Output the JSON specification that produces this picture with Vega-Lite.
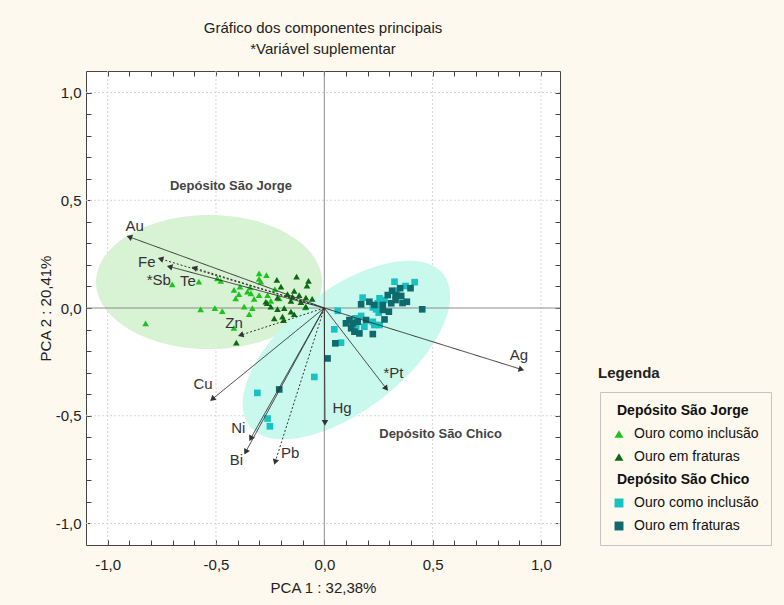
{
  "$schema": "https://vega.github.io/schema/vega-lite/v6.json",
  "width": 474,
  "height": 474,
  "autosize": "none",
  "padding": {"left": 86, "top": 71, "right": 224, "bottom": 60},
  "background": "#fdf9ee",
  "title": {
    "text": ["Gráfico dos componentes principais", "*Variável suplementar"],
    "font": "Liberation Sans",
    "fontSize": 15,
    "fontWeight": "normal",
    "color": "#222222",
    "lineHeight": 21,
    "anchor": "middle",
    "frame": "group",
    "offset": 14
  },
  "config": {
    "view": {"stroke": "#444444", "strokeWidth": 1, "fill": "#ffffff"},
    "axis": {
      "domain": false,
      "grid": false,
      "tickColor": "#444444",
      "tickSize": -5,
      "tickWidth": 1,
      "labelFont": "Liberation Sans",
      "labelFontSize": 15,
      "labelColor": "#222222",
      "labelFlush": false,
      "titleFont": "Liberation Sans",
      "titleFontSize": 15,
      "titleFontWeight": "normal",
      "titleColor": "#222222"
    }
  },
  "resolve": {"axis": {"x": "independent", "y": "independent"}},
  "datasets": {
    "grade": [{"v": -1.0}, {"v": -0.5}, {"v": 0.5}, {"v": 1.0}],
    "eixos": [{"zero": 0}],
    "elipses": [
      {"deposito": "São Jorge", "pc1": -0.532, "pc2": 0.121},
      {"deposito": "São Chico", "pc1": 0.102, "pc2": -0.195}
    ],
    "pontos": [
      {"grupo": "J1", "pc1": -0.702, "pc2": 0.110},
      {"grupo": "J1", "pc1": -0.579, "pc2": 0.122},
      {"grupo": "J1", "pc1": -0.494, "pc2": 0.138},
      {"grupo": "J1", "pc1": -0.478, "pc2": 0.126},
      {"grupo": "J1", "pc1": -0.571, "pc2": -0.006},
      {"grupo": "J1", "pc1": -0.505, "pc2": -0.001},
      {"grupo": "J1", "pc1": -0.471, "pc2": -0.014},
      {"grupo": "J1", "pc1": -0.825, "pc2": -0.071},
      {"grupo": "J1", "pc1": -0.267, "pc2": 0.153},
      {"grupo": "J1", "pc1": -0.301, "pc2": 0.135},
      {"grupo": "J1", "pc1": -0.293, "pc2": 0.122},
      {"grupo": "J1", "pc1": -0.417, "pc2": 0.084},
      {"grupo": "J1", "pc1": -0.389, "pc2": 0.099},
      {"grupo": "J1", "pc1": -0.343, "pc2": 0.096},
      {"grupo": "J1", "pc1": -0.355, "pc2": 0.076},
      {"grupo": "J1", "pc1": -0.394, "pc2": 0.064},
      {"grupo": "J1", "pc1": -0.339, "pc2": 0.068},
      {"grupo": "J1", "pc1": -0.228, "pc2": 0.088},
      {"grupo": "J1", "pc1": -0.301, "pc2": 0.060},
      {"grupo": "J1", "pc1": -0.262, "pc2": 0.060},
      {"grupo": "J1", "pc1": -0.409, "pc2": 0.045},
      {"grupo": "J1", "pc1": -0.324, "pc2": 0.042},
      {"grupo": "J1", "pc1": -0.247, "pc2": 0.033},
      {"grupo": "J1", "pc1": -0.208, "pc2": 0.045},
      {"grupo": "J1", "pc1": -0.370, "pc2": 0.006},
      {"grupo": "J1", "pc1": -0.332, "pc2": -0.001},
      {"grupo": "J1", "pc1": -0.347, "pc2": -0.029},
      {"grupo": "J1", "pc1": -0.417, "pc2": -0.092},
      {"grupo": "J1", "pc1": -0.088, "pc2": 0.003},
      {"grupo": "J1", "pc1": -0.301, "pc2": 0.161},
      {"grupo": "J2", "pc1": -0.219, "pc2": 0.130},
      {"grupo": "J2", "pc1": -0.128, "pc2": 0.146},
      {"grupo": "J2", "pc1": -0.073, "pc2": 0.126},
      {"grupo": "J2", "pc1": -0.080, "pc2": 0.104},
      {"grupo": "J2", "pc1": -0.200, "pc2": 0.099},
      {"grupo": "J2", "pc1": -0.216, "pc2": 0.048},
      {"grupo": "J2", "pc1": -0.170, "pc2": 0.064},
      {"grupo": "J2", "pc1": -0.139, "pc2": 0.079},
      {"grupo": "J2", "pc1": -0.147, "pc2": 0.053},
      {"grupo": "J2", "pc1": -0.116, "pc2": 0.060},
      {"grupo": "J2", "pc1": -0.085, "pc2": 0.048},
      {"grupo": "J2", "pc1": -0.270, "pc2": 0.029},
      {"grupo": "J2", "pc1": -0.154, "pc2": 0.033},
      {"grupo": "J2", "pc1": -0.108, "pc2": 0.027},
      {"grupo": "J2", "pc1": -0.247, "pc2": 0.006},
      {"grupo": "J2", "pc1": -0.216, "pc2": -0.005},
      {"grupo": "J2", "pc1": -0.185, "pc2": -0.001},
      {"grupo": "J2", "pc1": -0.154, "pc2": -0.017},
      {"grupo": "J2", "pc1": -0.139, "pc2": -0.029},
      {"grupo": "J2", "pc1": -0.085, "pc2": 0.006},
      {"grupo": "J2", "pc1": -0.231, "pc2": -0.048},
      {"grupo": "J2", "pc1": -0.193, "pc2": -0.040},
      {"grupo": "J2", "pc1": -0.188, "pc2": -0.056},
      {"grupo": "J2", "pc1": -0.406, "pc2": -0.161},
      {"grupo": "J2", "pc1": -0.264, "pc2": 0.023},
      {"grupo": "J2", "pc1": -0.056, "pc2": 0.042},
      {"grupo": "C1", "pc1": 0.417, "pc2": 0.120},
      {"grupo": "C1", "pc1": 0.324, "pc2": 0.122},
      {"grupo": "C1", "pc1": 0.375, "pc2": 0.102},
      {"grupo": "C1", "pc1": 0.335, "pc2": 0.080},
      {"grupo": "C1", "pc1": 0.278, "pc2": 0.037},
      {"grupo": "C1", "pc1": 0.255, "pc2": 0.045},
      {"grupo": "C1", "pc1": 0.247, "pc2": 0.022},
      {"grupo": "C1", "pc1": 0.177, "pc2": 0.048},
      {"grupo": "C1", "pc1": 0.239, "pc2": -0.006},
      {"grupo": "C1", "pc1": 0.251, "pc2": -0.022},
      {"grupo": "C1", "pc1": 0.224, "pc2": 0.003},
      {"grupo": "C1", "pc1": 0.062, "pc2": -0.013},
      {"grupo": "C1", "pc1": 0.170, "pc2": -0.037},
      {"grupo": "C1", "pc1": 0.144, "pc2": -0.048},
      {"grupo": "C1", "pc1": 0.224, "pc2": -0.064},
      {"grupo": "C1", "pc1": 0.231, "pc2": -0.079},
      {"grupo": "C1", "pc1": 0.255, "pc2": -0.079},
      {"grupo": "C1", "pc1": 0.147, "pc2": -0.087},
      {"grupo": "C1", "pc1": 0.185, "pc2": -0.087},
      {"grupo": "C1", "pc1": 0.046, "pc2": -0.099},
      {"grupo": "C1", "pc1": 0.077, "pc2": -0.161},
      {"grupo": "C1", "pc1": -0.046, "pc2": -0.320},
      {"grupo": "C1", "pc1": -0.309, "pc2": -0.394},
      {"grupo": "C1", "pc1": -0.262, "pc2": -0.513},
      {"grupo": "C1", "pc1": -0.251, "pc2": -0.549},
      {"grupo": "C2", "pc1": 0.398, "pc2": 0.092},
      {"grupo": "C2", "pc1": 0.350, "pc2": 0.092},
      {"grupo": "C2", "pc1": 0.313, "pc2": 0.080},
      {"grupo": "C2", "pc1": 0.293, "pc2": 0.060},
      {"grupo": "C2", "pc1": 0.329, "pc2": 0.060},
      {"grupo": "C2", "pc1": 0.355, "pc2": 0.056},
      {"grupo": "C2", "pc1": 0.329, "pc2": 0.037},
      {"grupo": "C2", "pc1": 0.309, "pc2": 0.022},
      {"grupo": "C2", "pc1": 0.381, "pc2": 0.029},
      {"grupo": "C2", "pc1": 0.270, "pc2": 0.014},
      {"grupo": "C2", "pc1": 0.208, "pc2": 0.029},
      {"grupo": "C2", "pc1": 0.170, "pc2": 0.017},
      {"grupo": "C2", "pc1": 0.231, "pc2": 0.014},
      {"grupo": "C2", "pc1": 0.270, "pc2": -0.009},
      {"grupo": "C2", "pc1": 0.298, "pc2": -0.017},
      {"grupo": "C2", "pc1": 0.116, "pc2": -0.056},
      {"grupo": "C2", "pc1": 0.131, "pc2": -0.071},
      {"grupo": "C2", "pc1": 0.100, "pc2": -0.071},
      {"grupo": "C2", "pc1": 0.154, "pc2": -0.064},
      {"grupo": "C2", "pc1": 0.193, "pc2": -0.056},
      {"grupo": "C2", "pc1": 0.278, "pc2": -0.053},
      {"grupo": "C2", "pc1": 0.124, "pc2": -0.094},
      {"grupo": "C2", "pc1": 0.162, "pc2": -0.118},
      {"grupo": "C2", "pc1": 0.139, "pc2": -0.110},
      {"grupo": "C2", "pc1": 0.224, "pc2": -0.121},
      {"grupo": "C2", "pc1": 0.452, "pc2": -0.006},
      {"grupo": "C2", "pc1": 0.051, "pc2": -0.164},
      {"grupo": "C2", "pc1": 0.015, "pc2": -0.234},
      {"grupo": "C2", "pc1": -0.208, "pc2": -0.378},
      {"grupo": "C2", "pc1": 0.361, "pc2": 0.023}
    ],
    "vetores": [
      {"var": "Au", "ox": 0, "oy": 0, "pc1": -0.900, "pc2": 0.330, "lx": -0.875, "ly": 0.382, "linha": "contínua"},
      {"var": "Fe", "ox": 0, "oy": 0, "pc1": -0.756, "pc2": 0.228, "lx": -0.819, "ly": 0.215, "linha": "pontilhada"},
      {"var": "*Sb", "ox": 0, "oy": 0, "pc1": -0.714, "pc2": 0.192, "lx": -0.764, "ly": 0.130, "linha": "contínua"},
      {"var": "Te", "ox": 0, "oy": 0, "pc1": -0.600, "pc2": 0.186, "lx": -0.630, "ly": 0.123, "linha": "pontilhada"},
      {"var": "Zn", "ox": 0, "oy": 0, "pc1": -0.386, "pc2": -0.126, "lx": -0.417, "ly": -0.068, "linha": "pontilhada"},
      {"var": "Cu", "ox": 0, "oy": 0, "pc1": -0.517, "pc2": -0.423, "lx": -0.560, "ly": -0.353, "linha": "contínua"},
      {"var": "Ni", "ox": 0, "oy": 0, "pc1": -0.340, "pc2": -0.606, "lx": -0.397, "ly": -0.557, "linha": "contínua"},
      {"var": "Bi", "ox": 0, "oy": 0, "pc1": -0.363, "pc2": -0.668, "lx": -0.406, "ly": -0.707, "linha": "contínua"},
      {"var": "Pb", "ox": 0, "oy": 0, "pc1": -0.227, "pc2": -0.715, "lx": -0.157, "ly": -0.673, "linha": "pontilhada"},
      {"var": "Hg", "ox": 0, "oy": 0, "pc1": 0.003, "pc2": -0.533, "lx": 0.082, "ly": -0.466, "linha": "contínua"},
      {"var": "*Pt", "ox": 0, "oy": 0, "pc1": 0.286, "pc2": -0.374, "lx": 0.319, "ly": -0.303, "linha": "contínua"},
      {"var": "Ag", "ox": 0, "oy": 0, "pc1": 0.910, "pc2": -0.285, "lx": 0.898, "ly": -0.219, "linha": "contínua"}
    ],
    "rotulos": [
      {"texto": "Depósito São Jorge", "pc1": -0.431, "pc2": 0.567},
      {"texto": "Depósito São Chico", "pc1": 0.537, "pc2": -0.586}
    ]
  },
  "layer": [
    {
      "data": {"name": "grade"},
      "mark": {"type": "rule", "color": "#d6d6d6", "strokeWidth": 1, "strokeDash": [2, 2]},
      "encoding": {
        "x": {
          "field": "v",
          "type": "quantitative",
          "axis": {
            "orient": "top",
            "title": null,
            "labels": false,
            "values": [-1.0, -0.9, -0.8, -0.7, -0.6, -0.5, -0.4, -0.3, -0.2, -0.1, 0.0, 0.1, 0.2, 0.3, 0.4, 0.5, 0.6, 0.7, 0.8, 0.9, 1.0]
          }
        }
      }
    },
    {
      "data": {"name": "grade"},
      "mark": {"type": "rule", "color": "#d6d6d6", "strokeWidth": 1, "strokeDash": [2, 2]},
      "encoding": {
        "y": {
          "field": "v",
          "type": "quantitative",
          "axis": {
            "orient": "right",
            "title": null,
            "labels": false,
            "values": [-1.0, -0.9, -0.8, -0.7, -0.6, -0.5, -0.4, -0.3, -0.2, -0.1, 0.0, 0.1, 0.2, 0.3, 0.4, 0.5, 0.6, 0.7, 0.8, 0.9, 1.0]
          }
        }
      }
    },
    {
      "data": {"name": "elipses"},
      "transform": [{"filter": "datum.deposito == 'São Jorge'"}],
      "mark": {
        "type": "point",
        "shape": "M 1 0 C 1 0.3275 0.5523 0.593 0 0.593 C -0.5523 0.593 -1 0.3275 -1 0 C -1 -0.3275 -0.5523 -0.593 0 -0.593 C 0.5523 -0.593 1 -0.3275 1 0 Z",
        "size": 51076,
        "filled": true,
        "color": "#d8f2d4",
        "opacity": 1,
        "strokeWidth": 0
      },
      "encoding": {
        "x": {
          "field": "pc1",
          "type": "quantitative",
          "scale": {"domain": [-1.1, 1.088], "nice": false, "zero": false},
          "axis": {
            "orient": "bottom",
            "title": "PCA 1 : 32,38%",
            "values": [-1.0, -0.5, 0.0, 0.5, 1.0],
            "labelExpr": "(datum.value < 0 ? '-' : '') + replace(format(abs(datum.value), '.1f'), '.', ',')",
            "labelPadding": 17,
            "titlePadding": 8
          }
        },
        "y": {
          "field": "pc2",
          "type": "quantitative",
          "scale": {"domain": [-1.1, 1.1], "nice": false, "zero": false},
          "axis": {
            "orient": "left",
            "title": "PCA 2 : 20,41%",
            "values": [-1.0, -0.5, 0.0, 0.5, 1.0],
            "labelExpr": "(datum.value < 0 ? '-' : '') + replace(format(abs(datum.value), '.1f'), '.', ',')",
            "labelPadding": 10,
            "titlePadding": 2
          }
        }
      }
    },
    {
      "data": {"name": "elipses"},
      "transform": [{"filter": "datum.deposito == 'São Chico'"}],
      "mark": {
        "type": "point",
        "shape": "M 1 0 C 1 0.2695 0.5523 0.488 0 0.488 C -0.5523 0.488 -1 0.2695 -1 0 C -1 -0.2695 -0.5523 -0.488 0 -0.488 C 0.5523 -0.488 1 -0.2695 1 0 Z",
        "size": 60516,
        "angle": 322,
        "filled": true,
        "color": "#c9f8ec",
        "opacity": 1,
        "strokeWidth": 0
      },
      "encoding": {
        "x": {"field": "pc1", "type": "quantitative", "axis": null},
        "y": {"field": "pc2", "type": "quantitative", "axis": null}
      }
    },
    {
      "data": {"name": "eixos"},
      "mark": {"type": "rule", "color": "#8c8c8c", "strokeWidth": 1},
      "encoding": {
        "x": {
          "field": "zero",
          "type": "quantitative",
          "axis": {
            "orient": "bottom",
            "title": null,
            "labels": false,
            "values": [-1.0, -0.9, -0.8, -0.7, -0.6, -0.5, -0.4, -0.3, -0.2, -0.1, 0.0, 0.1, 0.2, 0.3, 0.4, 0.5, 0.6, 0.7, 0.8, 0.9, 1.0]
          }
        }
      }
    },
    {
      "data": {"name": "eixos"},
      "mark": {"type": "rule", "color": "#8c8c8c", "strokeWidth": 1},
      "encoding": {
        "y": {
          "field": "zero",
          "type": "quantitative",
          "axis": {
            "orient": "left",
            "title": null,
            "labels": false,
            "values": [-1.0, -0.9, -0.8, -0.7, -0.6, -0.5, -0.4, -0.3, -0.2, -0.1, 0.0, 0.1, 0.2, 0.3, 0.4, 0.5, 0.6, 0.7, 0.8, 0.9, 1.0]
          }
        }
      }
    },
    {
      "data": {"name": "pontos"},
      "mark": {"type": "point", "filled": true, "size": 44, "opacity": 1, "strokeWidth": 0},
      "encoding": {
        "x": {"field": "pc1", "type": "quantitative", "axis": null},
        "y": {"field": "pc2", "type": "quantitative", "axis": null},
        "color": {
          "field": "grupo",
          "type": "nominal",
          "scale": {
            "domain": ["J0", "J1", "J2", "C0", "C1", "C2"],
            "range": ["transparent", "#1ec41e", "#0b6a12", "transparent", "#17c2c2", "#0f696d"]
          },
          "legend": {
            "title": null,
            "orient": "none",
            "legendX": 514,
            "legendY": 321,
            "padding": 12,
            "strokeColor": "#c4c4c4",
            "rowPadding": 9,
            "symbolSize": 80,
            "symbolStrokeWidth": 0,
            "labelOffset": 8,
            "labelFont": "Liberation Sans",
            "labelFontSize": 14,
            "labelColor": "#111111",
            "labelLimit": 200,
            "labelExpr": "datum.value == 'J0' ? 'Depósito São Jorge' : datum.value == 'C0' ? 'Depósito São Chico' : (datum.value == 'J1' || datum.value == 'C1') ? 'Ouro como inclusão' : 'Ouro em fraturas'",
            "encoding": {
              "labels": {
                "fontWeight": {"condition": {"test": "datum.value == 'J0' || datum.value == 'C0'", "value": "bold"}, "value": "normal"},
                "dx": {"condition": {"test": "datum.value == 'J0' || datum.value == 'C0'", "value": -17}, "value": 0}
              }
            }
          }
        },
        "shape": {
          "field": "grupo",
          "type": "nominal",
          "scale": {
            "domain": ["J0", "J1", "J2", "C0", "C1", "C2"],
            "range": ["triangle-up", "triangle-up", "triangle-up", "square", "square", "square"]
          },
          "legend": null
        }
      }
    },
    {
      "data": {"name": "vetores"},
      "mark": {"type": "rule", "color": "#333333", "strokeWidth": 1},
      "encoding": {
        "x": {"field": "ox", "type": "quantitative", "axis": null},
        "y": {"field": "oy", "type": "quantitative", "axis": null},
        "x2": {"field": "pc1"},
        "y2": {"field": "pc2"},
        "strokeDash": {
          "field": "linha",
          "type": "nominal",
          "scale": {"domain": ["contínua", "pontilhada"], "range": [[1, 0], [2, 2]]},
          "legend": {
            "title": "Legenda",
            "orient": "none",
            "legendX": 512,
            "legendY": 295,
            "padding": 0,
            "titlePadding": 0,
            "titleFont": "Liberation Sans",
            "titleFontSize": 15,
            "titleFontWeight": "bold",
            "titleColor": "#222222",
            "symbolOpacity": 0,
            "labelExpr": "''"
          }
        }
      }
    },
    {
      "data": {"name": "vetores"},
      "transform": [{"calculate": "atan2(datum.pc1, datum.pc2) * 180 / PI", "as": "rumo"}],
      "mark": {"type": "point", "shape": "triangle-up", "filled": true, "size": 42, "color": "#333333", "opacity": 1, "strokeWidth": 0},
      "encoding": {
        "x": {"field": "pc1", "type": "quantitative", "axis": null},
        "y": {"field": "pc2", "type": "quantitative", "axis": null},
        "angle": {"field": "rumo", "type": "quantitative", "scale": {"domain": [-360, 360], "range": [-360, 360]}}
      }
    },
    {
      "data": {"name": "vetores"},
      "mark": {"type": "text", "font": "Liberation Sans", "fontSize": 15, "color": "#333333", "align": "center", "baseline": "middle"},
      "encoding": {
        "x": {"field": "lx", "type": "quantitative", "axis": null},
        "y": {"field": "ly", "type": "quantitative", "axis": null},
        "text": {"field": "var"}
      }
    },
    {
      "data": {"name": "rotulos"},
      "mark": {"type": "text", "font": "Liberation Sans", "fontSize": 13, "fontWeight": "bold", "color": "#444444", "align": "center", "baseline": "middle"},
      "encoding": {
        "x": {"field": "pc1", "type": "quantitative", "axis": null},
        "y": {"field": "pc2", "type": "quantitative", "axis": null},
        "text": {"field": "texto"}
      }
    }
  ]
}
